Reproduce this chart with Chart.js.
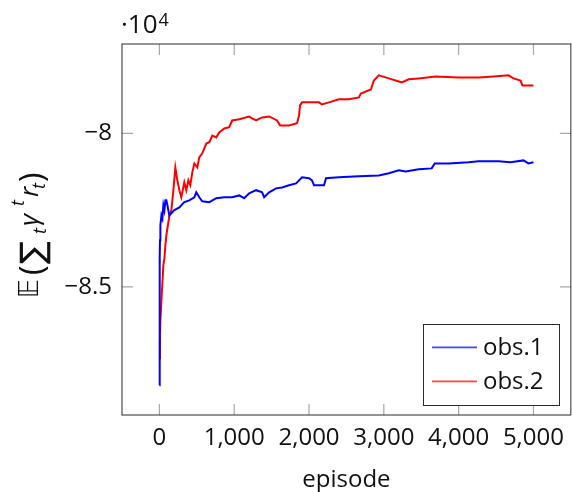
<!DOCTYPE html>
<html>
<head>
<meta charset="utf-8">
<script src="https://cdn.jsdelivr.net/npm/chart.js@4.4.1/dist/chart.umd.min.js"></script>
<style>
  html, body { margin: 0; padding: 0; overflow: hidden; background: #fff; }
</style>
</head>
<body>
<canvas id="chart" width="573" height="492"></canvas>
<script>
const FONT = "'Open Sans', 'DejaVu Sans', sans-serif";

// obs.1 (blue)
const obs1Episodes = [0, 3, 5, 8, 13, 27, 40, 53, 67, 80, 93, 107, 133, 160, 200, 267, 333, 400,
  467, 493, 533, 573, 667, 760, 867, 973, 1067, 1133, 1200, 1293, 1373, 1400, 1467, 1560, 1640,
  1733, 1827, 1867, 1907, 2000, 2040, 2067, 2200, 2227, 2400, 2667, 2933, 3067, 3200, 3293, 3467,
  3640, 3680, 3867, 4133, 4267, 4533, 4693, 4867, 4933, 5000];
const obs1Values = [-88200, -86410, -84030, -83480, -82990, -82670, -82770, -82340, -82500, -82180,
  -82180, -82340, -82670, -82600, -82500, -82410, -82240, -82180, -82080, -81920, -82080, -82210,
  -82240, -82110, -82080, -82080, -82020, -82110, -81950, -81850, -81920, -82080, -81920, -81790,
  -81760, -81690, -81630, -81530, -81430, -81460, -81530, -81690, -81690, -81460, -81430, -81400,
  -81370, -81300, -81200, -81240, -81170, -81140, -80980, -80980, -80940, -80910, -80910, -80940,
  -80880, -80980, -80940];

// obs.2 (red)
const obs2Episodes = [0, 7, 13, 27, 40, 53, 67, 80, 93, 107, 133, 160, 187, 213, 240, 267, 293, 333,
  360, 387, 413, 440, 467, 507, 533, 573, 627, 667, 707, 760, 800, 867, 933, 973, 1067, 1200, 1240,
  1293, 1373, 1467, 1573, 1613, 1733, 1840, 1867, 1880, 1907, 2133, 2173, 2267, 2400, 2533, 2667,
  2693, 2827, 2867, 2933, 3067, 3200, 3240, 3333, 3467, 3693, 4000, 4267, 4467, 4667, 4733, 4827,
  4853, 5000];
const obs2Values = [-87320, -86730, -86080, -85430, -84880, -84290, -84070, -83640, -83320, -83090,
  -82700, -82500, -81850, -81110, -81530, -81850, -82080, -81590, -81850, -81530, -81690, -81270,
  -80980, -81110, -80780, -80650, -80330, -80290, -80070, -80130, -79970, -79840, -79800, -79580,
  -79540, -79450, -79510, -79580, -79480, -79450, -79580, -79740, -79740, -79670, -79410, -79090,
  -78990, -78990, -79060, -78990, -78890, -78890, -78830, -78700, -78570, -78280, -78110, -78210,
  -78310, -78340, -78240, -78210, -78150, -78180, -78180, -78150, -78110, -78210, -78280, -78440,
  -78440];

const xTickValues = [0, 1000, 2000, 3000, 4000, 5000];
const xTickLabels = ['0', '1,000', '2,000', '3,000', '4,000', '5,000'];
const yTickValues = [-85000, -80000];
const yTickLabels = ['\u22128.5', '\u22128'];
const xTitle = 'episode';
const seriesLabels = ['obs.1', 'obs.2'];
const seriesColors = ['rgb(0,0,255)', 'rgb(255,0,0)'];
const legendLineColors = ['rgba(40,40,255,0.85)', 'rgba(255,40,40,0.85)'];

function toPoints(xs, ys) {
  return xs.map((x, i) => ({x: x, y: ys[i]}));
}

const decorations = {
  id: 'decorations',
  beforeDatasetsDraw(chart) {
    const {ctx, chartArea: a, scales: {x, y}} = chart;
    ctx.save();
    ctx.strokeStyle = '#a8a8a8';
    ctx.lineWidth = 1.2;
    ctx.beginPath();
    x.ticks.forEach((t) => {
      const px = x.getPixelForValue(t.value);
      ctx.moveTo(px, a.bottom); ctx.lineTo(px, a.bottom - 11);
      ctx.moveTo(px, a.top); ctx.lineTo(px, a.top + 11);
    });
    y.ticks.forEach((t) => {
      const py = y.getPixelForValue(t.value);
      ctx.moveTo(a.left, py); ctx.lineTo(a.left + 11, py);
      ctx.moveTo(a.right, py); ctx.lineTo(a.right - 11, py);
    });
    ctx.stroke();
    ctx.restore();
  },
  afterDatasetsDraw(chart) {
    const {ctx, chartArea: a} = chart;
    ctx.save();
    // frame
    ctx.strokeStyle = '#2b2b2b';
    ctx.lineWidth = 1;
    ctx.strokeRect(a.left, a.top, a.right - a.left, a.bottom - a.top);

    // legend box
    const bx = 423.5, by = 324.5, bw = 136, bh = 81;
    ctx.fillStyle = '#fff';
    ctx.fillRect(bx, by, bw, bh);
    ctx.strokeRect(bx, by, bw, bh);
    ctx.font = '24px ' + FONT;
    ctx.textBaseline = 'middle';
    ctx.textAlign = 'left';
    seriesLabels.forEach((label, i) => {
      const ly = 347 + i * 34;
      ctx.fillStyle = legendLineColors[i];
      ctx.fillRect(432, ly - 0.5, 45, 1.8);
      ctx.fillStyle = '#111';
      ctx.fillText(label, 483, ly + 1);
    });

    // scale factor label
    ctx.fillStyle = '#111';
    ctx.textBaseline = 'alphabetic';
    ctx.font = '26px ' + FONT;
    ctx.fillText('\u00b710', 121, 33);
    const w = ctx.measureText('\u00b710').width;
    ctx.font = '18px ' + FONT;
    ctx.fillText('4', 121 + w + 1, 26);

    // y axis title, rotated; offsets run along the text direction
    ctx.translate(38, 298);
    ctx.rotate(-Math.PI / 2);
    const parts = [
      {t: '\ud835\udd3c', f: "26px 'DejaVu Sans', sans-serif", at: 0, dy: 0},
      {t: '(', f: '32px ' + FONT, at: 23, dy: 5},
      {t: '\u2211', f: "34px 'DejaVu Sans', sans-serif", at: 34, dy: 6},
      {t: 't', f: 'italic 18px ' + FONT, at: 64, dy: 8},
      {t: '\u03b3', f: 'italic 26px ' + FONT, at: 72, dy: 0},
      {t: 't', f: 'italic 18px ' + FONT, at: 92, dy: -14},
      {t: 'r', f: 'italic 26px ' + FONT, at: 101, dy: 0},
      {t: 't', f: 'italic 18px ' + FONT, at: 109, dy: 7},
      {t: ')', f: '32px ' + FONT, at: 116, dy: 5},
    ];
    parts.forEach((p) => {
      ctx.font = p.f;
      ctx.fillText(p.t, p.at, p.dy);
    });
    ctx.restore();
  },
};

new Chart(document.getElementById('chart'), {
  type: 'line',
  data: {
    datasets: [{
      label: seriesLabels[0],
      data: toPoints(obs1Episodes, obs1Values),
      borderColor: seriesColors[0],
      backgroundColor: seriesColors[0],
      borderWidth: 2,
      pointRadius: 0,
      tension: 0,
    }, {
      label: seriesLabels[1],
      data: toPoints(obs2Episodes, obs2Values),
      borderColor: seriesColors[1],
      backgroundColor: seriesColors[1],
      borderWidth: 2,
      pointRadius: 0,
      tension: 0,
    }],
  },
  options: {
    responsive: false,
    animation: false,
    layout: {padding: {top: 44, left: 0, right: 0, bottom: 0}},
    plugins: {
      legend: {display: false},
      tooltip: {enabled: false},
    },
    scales: {
      x: {
        type: 'linear',
        min: -500,
        max: 5500,
        afterBuildTicks: (scale) => {
          scale.ticks = xTickValues.map((v) => ({value: v}));
        },
        afterFit: (scale) => {
          scale.height = 77;
        },
        grid: {display: false, drawTicks: false},
        border: {display: false},
        ticks: {
          padding: 9,
          color: '#111',
          font: {family: FONT, size: 24},
          maxRotation: 0,
          callback: (v) => xTickLabels[xTickValues.indexOf(v)],
        },
        title: {
          display: true,
          text: xTitle,
          color: '#111',
          font: {family: FONT, size: 24},
          padding: {top: 0, bottom: -3},
        },
      },
      y: {
        min: -89170,
        max: -77090,
        afterBuildTicks: (scale) => {
          scale.ticks = yTickValues.map((v) => ({value: v}));
        },
        afterFit: (scale) => {
          scale.width = 122;
        },
        grid: {display: false, drawTicks: false},
        border: {display: false},
        ticks: {
          padding: 10,
          color: '#111',
          font: {family: FONT, size: 24},
          callback: (v) => yTickLabels[yTickValues.indexOf(v)],
        },
      },
    },
  },
  plugins: [decorations],
});
</script>
</body>
</html>
